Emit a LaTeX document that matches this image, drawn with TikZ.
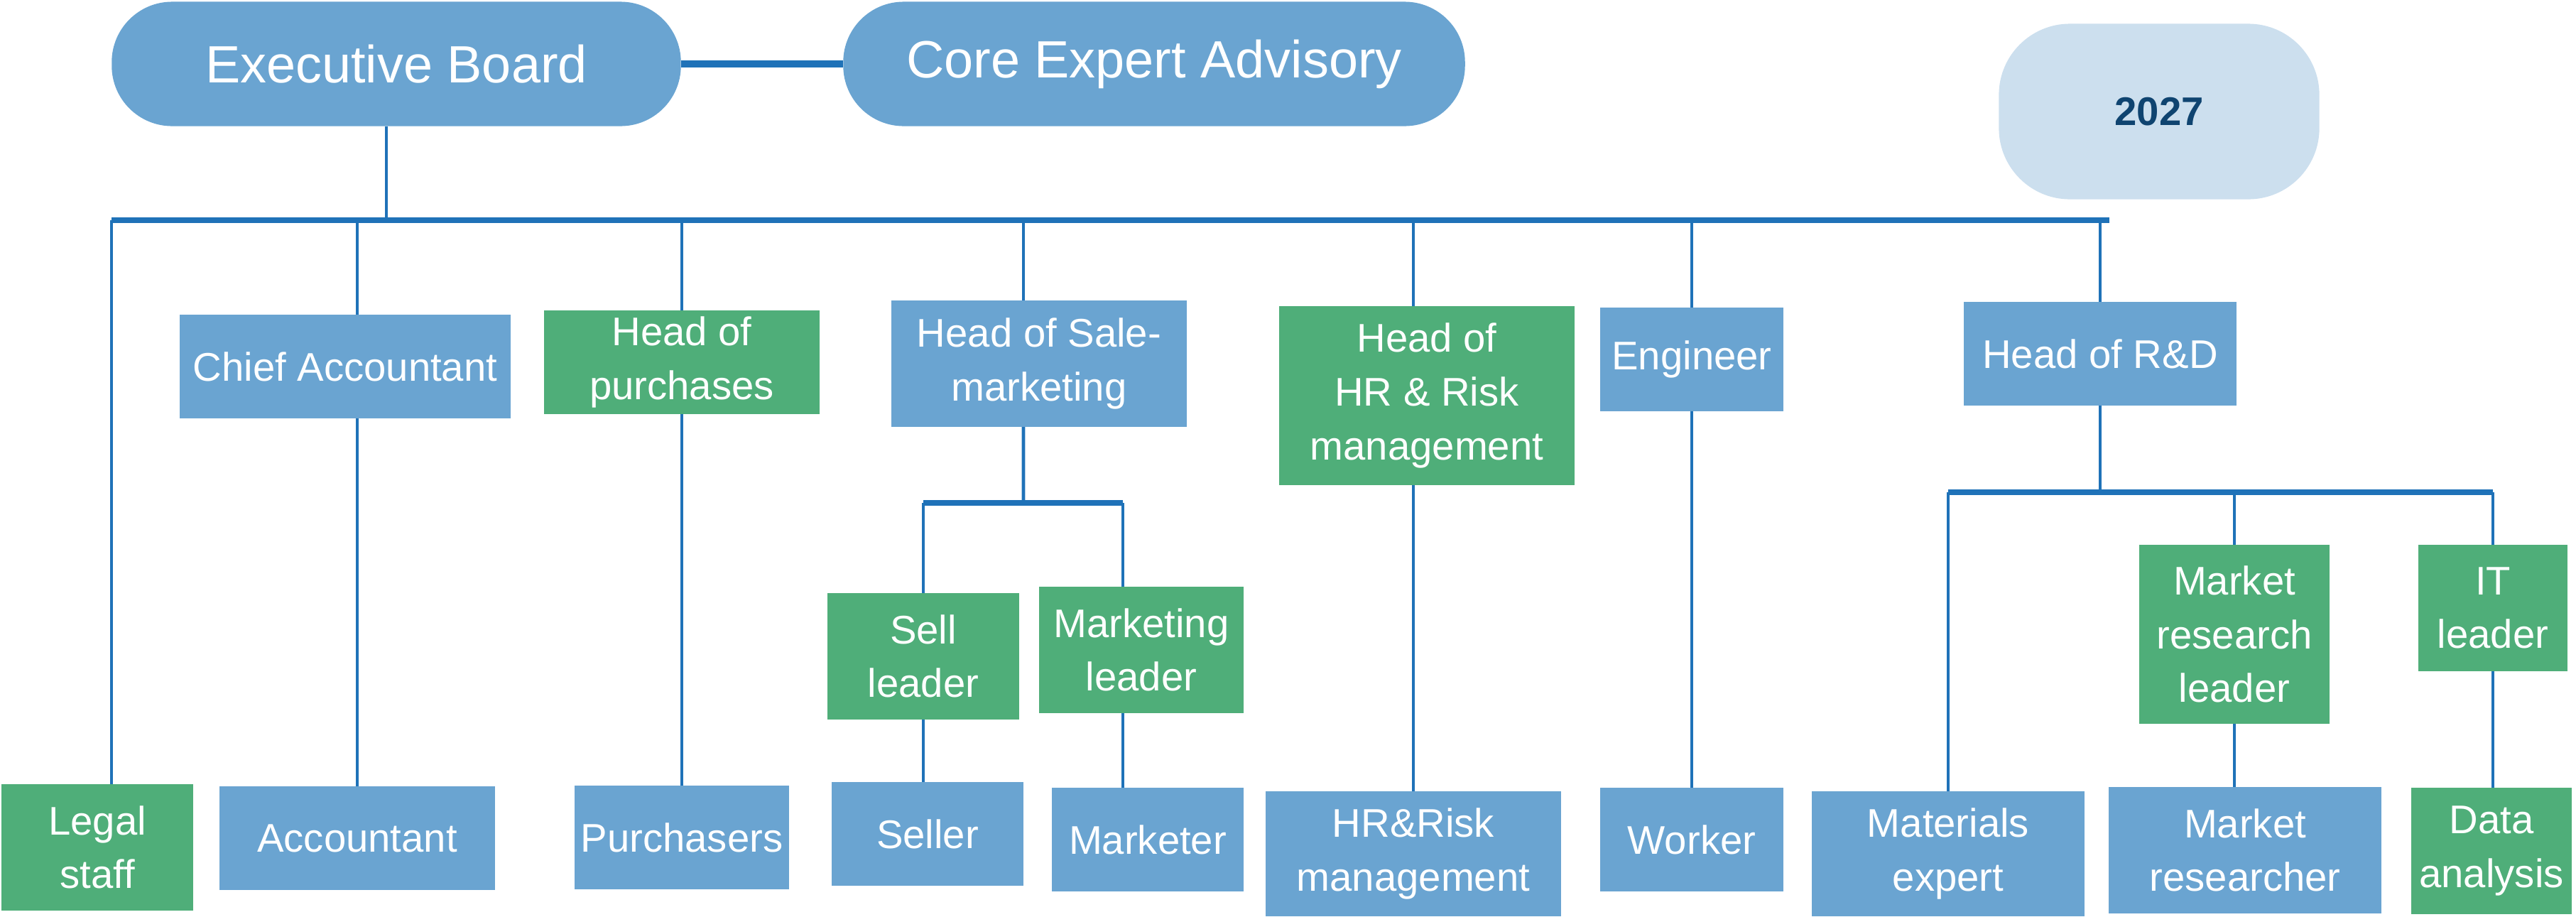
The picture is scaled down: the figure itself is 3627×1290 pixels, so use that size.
\documentclass[tikz,border=0pt]{standalone}
\usepackage{fontspec}
\setmainfont{Liberation Sans}
\usepackage{xcolor}
\usepackage{tikz}
\usetikzlibrary{positioning}
\definecolor{box-blue}{HTML}{6AA4D1}
\definecolor{box-green}{HTML}{4FAE79}
\definecolor{line-blue}{HTML}{1F72B8}
\definecolor{pale-blue}{HTML}{CCDFEE}
\definecolor{deep-navy}{HTML}{0F4470}

\begin{document}
\begin{tikzpicture}[x=0.01cm, y=-0.01cm,
    role/.style = {shape=rectangle, fill=box-blue, text=white,
      align=center, inner sep=0pt, outer sep=0pt,
      font=\fontsize{16}{21.5}\selectfont},
    lead/.style = {role, fill=box-green},
    board/.style = {role, rounded corners=0.85cm,
      font=\fontsize{21}{25}\selectfont},
    link/.style = {draw=line-blue, line width=1.3pt},
    bus/.style = {draw=line-blue, line width=2pt},
    boardlink/.style = {draw=line-blue, line width=3.1pt}]

  \useasboundingbox (0,0) rectangle (3627,1290);

  % top level
  \node [board, minimum width=8.01cm, minimum height=1.75cm] (exec) at (558,90) {Executive Board};
  \node [board, minimum width=8.75cm, minimum height=1.75cm] (core) at (1625,90) {Core Expert Advisory};
  \node [role, fill=pale-blue, text=deep-navy, rounded corners=1cm,
    font=\fontsize{16}{19}\selectfont\bfseries,
    minimum width=4.51cm, minimum height=2.47cm] (year) at (3040,157) {2027};

  % heads
  \node [role, minimum width=4.66cm, minimum height=1.46cm] (chief) at (486,516) {Chief Accountant};
  \node [lead, minimum width=3.88cm, minimum height=1.46cm] (hpur) at (960,510) {Head of\\purchases};
  \node [role, minimum width=4.15cm, minimum height=1.78cm] (sale) at (1463,512) {Head of Sale-\\marketing};
  \node [lead, minimum width=4.16cm, minimum height=2.52cm] (hhr) at (2009,557) {Head of\\HR \& Risk\\management};
  \node [role, minimum width=2.58cm, minimum height=1.46cm] (eng) at (2382,506) {Engineer};
  \node [role, minimum width=3.83cm, minimum height=1.46cm] (rnd) at (2957,498) {Head of R\&D};

  % leaders
  \node [lead, minimum width=2.69cm, minimum height=1.78cm] (sell) at (1300,924) {Sell\\leader};
  \node [lead, minimum width=2.88cm, minimum height=1.78cm] (mktl) at (1607,915) {Marketing\\leader};
  \node [lead, minimum width=2.67cm, minimum height=2.52cm] (mrl) at (3146,893) {Market\\research\\leader};
  \node [lead, minimum width=2.09cm, minimum height=1.78cm] (itl) at (3510,856) {IT\\leader};

  % staff
  \node [lead, minimum width=2.69cm, minimum height=1.77cm] (legal) at (137,1193) {Legal\\staff};
  \node [role, minimum width=3.88cm, minimum height=1.46cm] (acc) at (503,1180) {Accountant};
  \node [role, minimum width=3.01cm, minimum height=1.46cm] (purch) at (960,1179) {Purchasers};
  \node [role, minimum width=2.69cm, minimum height=1.46cm] (seller) at (1306,1174) {Seller};
  \node [role, minimum width=2.69cm, minimum height=1.46cm] (mkter) at (1616,1182) {Marketer};
  \node [role, minimum width=4.16cm, minimum height=1.75cm] (hrm) at (1990,1202) {HR\&Risk\\management};
  \node [role, minimum width=2.58cm, minimum height=1.46cm] (worker) at (2382,1182) {Worker};
  \node [role, minimum width=3.83cm, minimum height=1.75cm] (mat) at (2743,1202) {Materials\\expert};
  \node [role, minimum width=3.83cm, minimum height=1.78cm] (mres) at (3161,1197) {Market\\researcher};
  \node [lead, minimum width=2.26cm, minimum height=1.78cm] (data) at (3508,1198) {Data\\analysis};

  % main bus
  \coordinate (busL) at (157,310);
  \coordinate (busR) at (2970,310);
  \coordinate (execstem) at ([xshift=-0.14cm]exec.south);
  \draw [boardlink] (exec.east) -- (core.west);
  \draw [link] (execstem) -- (execstem |- busL);
  \draw [bus] (busL) -- (busR);

  \draw [link] (busL) -- (busL |- legal.north);
  \draw [link] (acc.north |- busL) -- (acc.north |- chief.north);
  \draw [link] (acc.north |- chief.south) -- (acc.north);
  \draw [link] (hpur.north |- busL) -- (hpur.north);
  \draw [link] (hpur.south) -- (hpur.south |- purch.north);
  \draw [link] (hrm.north |- busL) -- (hrm.north |- hhr.north);
  \draw [link] (hrm.north |- hhr.south) -- (hrm.north);
  \draw [link] (eng.north |- busL) -- (eng.north);
  \draw [link] (eng.south) -- (worker.north);
  \draw [link] (rnd.north |- busL) -- (rnd.north);

  % sale-marketing branch
  \coordinate (salestem) at ([xshift=-0.22cm]sale.north);
  \coordinate (mktstem) at ([xshift=-0.26cm]mktl.north);
  \coordinate (salebus) at (1441,708);
  \draw [link] (salestem |- busL) -- (salestem);
  \draw [link] (salestem |- sale.south) -- (salebus);
  \draw [bus] (salebus -| sell.north) -- (salebus -| mktstem);
  \draw [link] (salebus -| sell.north) -- (sell.north);
  \draw [link] (salebus -| mktstem) -- (mktstem);
  \draw [link] (sell.south) -- (sell.south |- seller.north);
  \draw [link] (mktstem |- mktl.south) -- (mktstem |- mkter.north);

  % R&D branch
  \coordinate (rndbus) at (2957,693);
  \draw [link] (rnd.south) -- (rndbus);
  \draw [bus] (rndbus -| mat.north) -- (rndbus -| itl.north);
  \draw [link] (rndbus -| mat.north) -- (mat.north);
  \draw [link] (rndbus -| mrl.north) -- (mrl.north);
  \draw [link] (mrl.south) -- (mrl.south |- mres.north);
  \draw [link] (rndbus -| itl.north) -- (itl.north);
  \draw [link] (itl.south) -- (itl.south |- data.north);
\end{tikzpicture}
\end{document}
